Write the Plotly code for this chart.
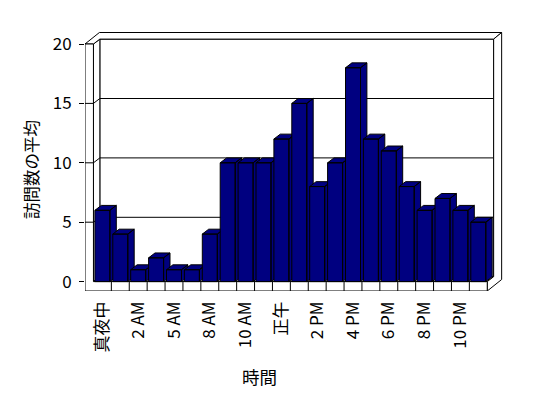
import plotly.graph_objects as go

# ---- data ----
categories = ["真夜中", "1 AM", "2 AM", "3 AM", "5 AM", "6 AM", "8 AM", "9 AM",
              "10 AM", "11 AM", "正午", "1 PM", "2 PM", "3 PM", "4 PM", "5 PM",
              "6 PM", "7 PM", "8 PM", "9 PM", "10 PM", "11 PM"]
visits = [6, 4, 1, 2, 1, 1, 4, 10, 10, 10, 12, 15, 8, 10, 18, 12, 11, 8, 6, 7, 6, 5]
y_ticks = [0, 5, 10, 15, 20]
x_title = "時間"
y_title = "訪問数の平均"

# ---- layout geometry ----
W, H = 548, 398
ML, MR, MT, MB = 85, 43, 30, 107
CAT_PX, VAL_PX = 17.9, 11.88
X0_PX, Y0_PX = 102.4, 281.6
x_range = [(ML - X0_PX) / CAT_PX, (W - MR - X0_PX) / CAT_PX]
y_range = [(Y0_PX - (H - MB)) / VAL_PX, (Y0_PX - MT) / VAL_PX]

N = len(categories)
VMAX = y_ticks[-1]
BAR_HALF = 7.5 / CAT_PX
DEPTHS = [(0.0, 0.0), (6.4, 4.9), (14.4, 11.5)]  # front, bar depth, wall rear (px)
xL = x_range[0]
xI = -0.5
xR = N - 0.5
fb = y_range[0]
NAVY = "#000080"
FONT = "Noto Sans CJK JP"


def pt(x, v, z):
    dx, dy = DEPTHS[z]
    return (x + dx / CAT_PX, v + dy / VAL_PX)


def poly_trace(polys, fill):
    xs, ys = [], []
    for p in polys:
        for (x, y) in p + [p[0]]:
            xs.append(x)
            ys.append(y)
        xs.append(None)
        ys.append(None)
    return go.Scatter(x=xs, y=ys, mode="lines", fill="toself", fillcolor=fill,
                      line=dict(color="black", width=1), hoverinfo="skip",
                      showlegend=False, cliponaxis=False)


def line_trace(segs):
    xs, ys = [], []
    for a, b in segs:
        xs += [a[0], b[0], None]
        ys += [a[1], b[1], None]
    return go.Scatter(x=xs, y=ys, mode="lines", line=dict(color="black", width=1),
                      hoverinfo="skip", showlegend=False, cliponaxis=False)


fig = go.Figure()
grid_vals = [v for v in y_ticks if 0 < v < VMAX]

# back wall
fig.add_trace(poly_trace([[pt(xI, 0, 1), pt(xR, 0, 1), pt(xR, VMAX, 1), pt(xI, VMAX, 1)]], "white"))
fig.add_trace(line_trace([(pt(xI, v, 1), pt(xR, v, 1)) for v in grid_vals]))
# left wall inner face
fig.add_trace(poly_trace([[pt(xI, 0, 0), pt(xI, VMAX, 0), pt(xI, VMAX, 1), pt(xI, 0, 1)]], "white"))
fig.add_trace(line_trace([(pt(xI, v, 0), pt(xI, v, 1)) for v in grid_vals]))
# floor top
fig.add_trace(poly_trace([[pt(xI, 0, 0), pt(xR, 0, 0), pt(xR, 0, 1), pt(xI, 0, 1)]], "white"))
# wall tops
fig.add_trace(poly_trace([[pt(xL, VMAX, 0), pt(xI, VMAX, 0), pt(xI, VMAX, 1), pt(xR, VMAX, 1),
                           pt(xR, VMAX, 2), pt(xL, VMAX, 2)]], "white"))
# right side
fig.add_trace(poly_trace([[pt(xR, 0, 0), pt(xR, 0, 1), pt(xR, VMAX, 1), pt(xR, VMAX, 2),
                           pt(xR, fb, 2), pt(xR, fb, 0)]], "white"))
# front faces of floor + left wall
fig.add_trace(poly_trace([[pt(xL, fb, 0), pt(xR, fb, 0), pt(xR, 0, 0), pt(xI, 0, 0),
                           pt(xI, VMAX, 0), pt(xL, VMAX, 0)]], "white"))
fig.add_trace(line_trace([(pt(xL, v, 0), pt(xI, v, 0)) for v in grid_vals]))
fig.add_trace(line_trace([(pt(i + 0.5, fb, 0), pt(i + 0.5, 0, 0)) for i in range(N - 1)]))

# bars (left to right so nearer faces overlap)
for i, v in enumerate(visits):
    xl, xr = i - BAR_HALF, i + BAR_HALF
    side = [pt(xr, 0, 0), pt(xr, 0, 1), pt(xr, v, 1), pt(xr, v, 0)]
    top = [pt(xl, v, 0), pt(xr, v, 0), pt(xr, v, 1), pt(xl, v, 1)]
    front = [pt(xl, 0, 0), pt(xr, 0, 0), pt(xr, v, 0), pt(xl, v, 0)]
    fig.add_trace(poly_trace([side, top, front], NAVY))

PW = W - ML - MR
PH = H - MT - MB


def px_to_paper(px, py):
    return (px - ML) / PW, ((H - MB) - py) / PH


ax, ay = px_to_paper(259, 376)
bx, by = px_to_paper(31, 170)

fig.update_layout(
    width=W, height=H,
    margin=dict(l=ML, r=MR, t=MT, b=MB, pad=0),
    paper_bgcolor="white", plot_bgcolor="white",
    font=dict(family=FONT, size=17, color="black"),
    showlegend=False,
    xaxis=dict(range=x_range, showgrid=False, zeroline=False, showline=False,
               tickmode="array", tickvals=list(range(0, N, 2)), ticktext=categories[::2],
               tickangle=-90, ticks="", ticklabelstandoff=6,
               tickfont=dict(family=FONT, size=17, color="black")),
    yaxis=dict(range=y_range, showgrid=False, zeroline=False, showline=False,
               tickmode="array", tickvals=y_ticks, ticks="outside", ticklen=5,
               tickcolor="black", tickwidth=1, ticklabelstandoff=4,
               tickfont=dict(family=FONT, size=17, color="black")),
    annotations=[
        dict(text=x_title, xref="paper", yref="paper", x=ax, y=ay, showarrow=False,
             xanchor="center", yanchor="middle", font=dict(family=FONT, size=17.5, color="black")),
        dict(text=y_title, xref="paper", yref="paper", x=bx, y=by, showarrow=False,
             textangle=-90, xanchor="center", yanchor="middle",
             font=dict(family=FONT, size=16.5, color="black")),
    ],
)

fig.write_html("out.html")
